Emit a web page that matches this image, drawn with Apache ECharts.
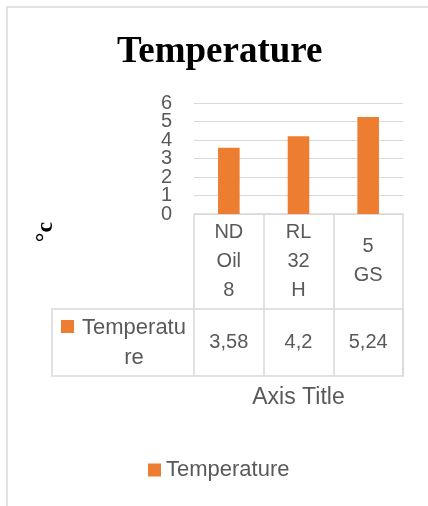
<!DOCTYPE html>
<html><head><meta charset="utf-8">
<script src="https://cdn.jsdelivr.net/npm/echarts@6/dist/echarts.min.js"></script>
<style>html,body{margin:0;padding:0;background:#fff}#c{width:428px;height:506px}</style>
</head><body><div id="c"></div>
<script>
const chartTitle = 'Temperature';
const seriesName = 'Temperature';
const categories = ['ND\nOil\n8', 'RL\n32\nH', '5\nGS'];
const values = [3.58, 4.2, 5.24];
const yTicks = [0, 1, 2, 3, 4, 5, 6];
const xAxisTitle = 'Axis Title';
const yAxisTitle = '°c';

const tableLabels = values.map(v => String(v).replace('.', ','));
const SANS = 'Liberation Sans';
const GRID_COLOR = '#d9d9d9';
const TEXT_COLOR = '#595959';
const BAR_COLOR = '#ed7d31';

const chart = echarts.init(document.getElementById('c'), null, {renderer: 'canvas'});
chart.setOption({
  animation: false,
  backgroundColor: '#fff',
  title: {
    text: chartTitle, left: 117, top: 34, padding: 0,
    textStyle: {fontFamily: 'Liberation Serif', fontWeight: 'bold', fontSize: 37, color: '#000'}
  },
  graphic: [
    {type: 'rect', shape: {x: 7, y: 7, width: 700, height: 700}, style: {fill: 'none', stroke: GRID_COLOR, lineWidth: 1.5}, silent: true, z: -10},
    {type: 'text', x: 46, y: 232, rotation: Math.PI / 2,
     style: {text: yAxisTitle, align: 'center', verticalAlign: 'middle', font: 'bold 24px "Liberation Serif"', fill: '#000'}}
  ],
  grid: [
    {left: 194, top: 103, width: 209, height: 111},
    {left: 52, top: 309, width: 351, height: 67, show: true, borderColor: GRID_COLOR, borderWidth: 1.5, backgroundColor: 'transparent'}
  ],
  xAxis: [
    {type: 'category', gridIndex: 0, data: categories,
     name: xAxisTitle, nameLocation: 'middle', nameGap: 183.5,
     nameTextStyle: {fontFamily: SANS, fontSize: 23, color: TEXT_COLOR, verticalAlign: 'middle'},
     axisLine: {show: true, lineStyle: {color: GRID_COLOR, width: 1.5}},
     axisTick: {show: true, alignWithLabel: false, length: 162, lineStyle: {color: GRID_COLOR, width: 1.5}},
     axisLabel: {fontFamily: SANS, fontSize: 20, color: TEXT_COLOR, lineHeight: 29, margin: 47, verticalAlign: 'middle', interval: 0}},
    {type: 'category', gridIndex: 0, data: tableLabels, position: 'bottom',
     axisLine: {show: false}, axisTick: {show: false},
     axisLabel: {fontFamily: SANS, fontSize: 20, color: TEXT_COLOR, margin: 128.5, verticalAlign: 'middle', interval: 0}},
    {type: 'category', gridIndex: 1, show: false, data: ['']}
  ],
  yAxis: [
    {type: 'value', gridIndex: 0, min: yTicks[0], max: yTicks[yTicks.length - 1], interval: yTicks[1] - yTicks[0],
     axisLine: {show: false}, axisTick: {show: false},
     splitLine: {show: true, lineStyle: {color: GRID_COLOR, width: 1}},
     axisLabel: {show: false}},
    {type: 'category', gridIndex: 0, position: 'left', data: yTicks.map(String), boundaryGap: false,
     axisLine: {show: false}, axisTick: {show: false}, splitLine: {show: false},
     axisLabel: {fontFamily: SANS, fontSize: 20, color: TEXT_COLOR, margin: 22, interval: 0}},
    {type: 'value', gridIndex: 1, show: false}
  ],
  legend: [
    {data: [seriesName], left: 148, top: 459, padding: 0, itemWidth: 13, itemHeight: 13, icon: 'rect',
     selectedMode: false, textStyle: {fontFamily: SANS, fontSize: 22, color: TEXT_COLOR}},
    {data: [seriesName], left: 61, top: 316.5, padding: 0, itemWidth: 13, itemHeight: 13, icon: 'rect',
     selectedMode: false,
     formatter: name => '{c|' + name.slice(0, 9) + '}\n{c|' + name.slice(9) + '}',
     textStyle: {width: 110, padding: [32, 0, 0, 0],
       rich: {c: {align: 'center', fontFamily: SANS, fontSize: 22, color: TEXT_COLOR, lineHeight: 30}}}}
  ],
  series: [{
    type: 'bar', name: seriesName, data: values, xAxisIndex: 0, yAxisIndex: 0,
    barWidth: '31%', itemStyle: {color: BAR_COLOR}
  }]
});
</script></body></html>
